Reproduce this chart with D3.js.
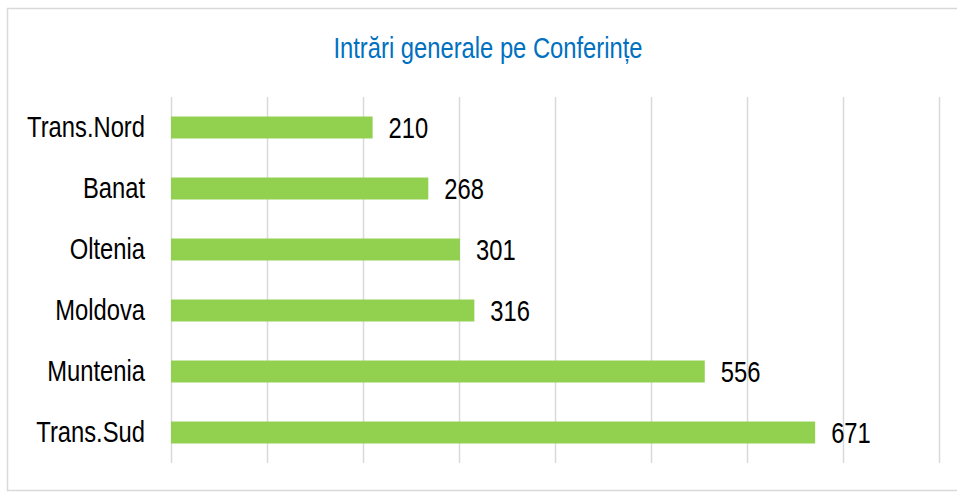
<!DOCTYPE html>
<html>
<head>
<meta charset="utf-8">
<script src="https://cdn.jsdelivr.net/npm/d3@7"></script>
<style>
  html, body { margin: 0; padding: 0; background: #fff; }
  svg { display: block; }
  text { font-family: "Liberation Sans", Arial, sans-serif; }
</style>
</head>
<body>
<div id="chart"></div>
<script>
const title = "Intrări generale pe Conferințe";
const categories = ["Trans.Nord", "Banat", "Oltenia", "Moldova", "Muntenia", "Trans.Sud"];
const values = [210, 268, 301, 316, 556, 671];
const xTicks = [0, 100, 200, 300, 400, 500, 600, 700, 800];

const W = 957, H = 492;
const margin = { left: 171, right: 18, top: 97, bottom: 29 };
const SX = 0.82; // narrow-font emulation

const svg = d3.select("#chart").append("svg").attr("width", W).attr("height", H);

// frame
svg.append("rect")
  .attr("x", 7.5).attr("y", 8.5).attr("width", W + 10).attr("height", 482)
  .attr("fill", "#fff").attr("stroke", "#d9d9d9").attr("stroke-width", 1.5);

const x = d3.scaleLinear().domain([0, 800]).range([margin.left, W - margin.right]);
const y = d3.scaleBand().domain(categories).range([margin.top, H - margin.bottom]).paddingInner(0.64).paddingOuter(0.32);

// gridlines
const grid = d3.axisBottom(x).tickValues(xTicks).tickSize(-(H - margin.bottom - margin.top)).tickFormat("");
const g = svg.append("g").attr("transform", `translate(0,${H - margin.bottom})`).call(grid);
g.select(".domain").remove();
g.selectAll(".tick line").attr("stroke", "#d9d9d9").attr("stroke-width", 1.5);

// bars
svg.append("g").selectAll("rect").data(values).join("rect")
  .attr("x", x(0))
  .attr("y", (d, i) => y(categories[i]))
  .attr("width", d => x(d) - x(0))
  .attr("height", y.bandwidth())
  .attr("fill", "#92d050");

// category labels
const pad = 26;
const ya = d3.axisLeft(y).tickSize(0).tickPadding(pad);
const yg = svg.append("g").attr("transform", `translate(${margin.left},0)`).call(ya);
yg.select(".domain").remove();
yg.selectAll("text")
  .attr("font-size", 29).attr("fill", "#000")
  .style("font-family", '"Liberation Sans", Arial, sans-serif')
  .attr("x", -pad / SX)
  .attr("transform", `scale(${SX},1)`);

// value labels
svg.append("g").attr("transform", `scale(${SX},1)`)
  .selectAll("text").data(values).join("text")
  .attr("x", d => (x(d) + 16) / SX)
  .attr("y", (d, i) => y(categories[i]) + y.bandwidth() / 2)
  .attr("dy", "0.35em")
  .attr("font-size", 29)
  .attr("fill", "#000")
  .text(d => d);

// title
svg.append("text")
  .attr("transform", `scale(${SX},1)`)
  .attr("x", 488 / SX).attr("y", 58)
  .attr("text-anchor", "middle")
  .attr("font-size", 29)
  .attr("fill", "#0070c0")
  .text(title);
</script>
</body>
</html>
